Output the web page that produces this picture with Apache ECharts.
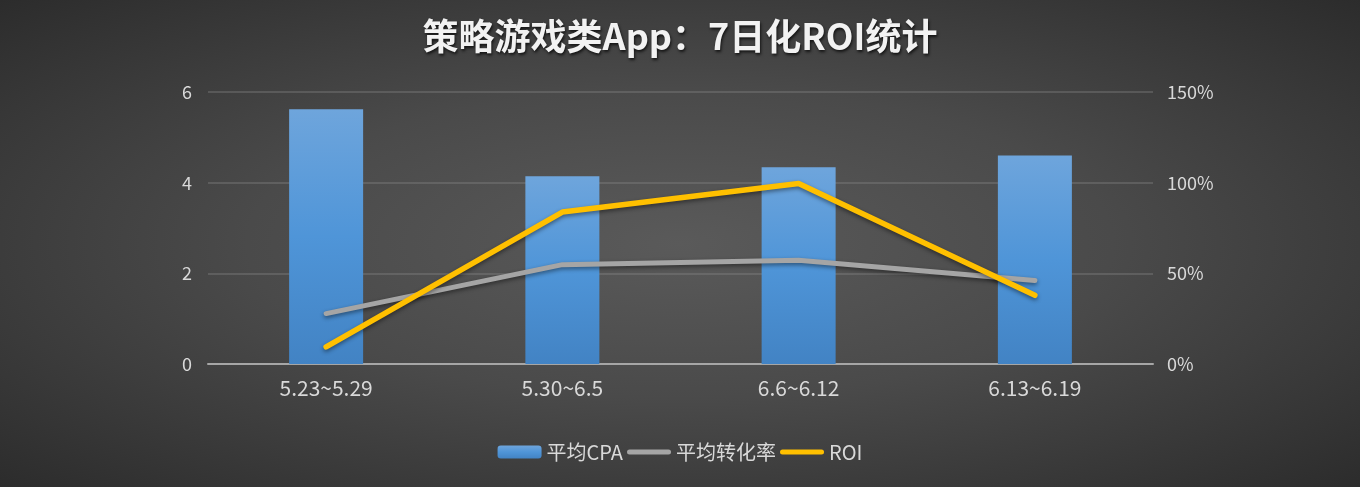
<!DOCTYPE html>
<html>
<head>
<meta charset="utf-8">
<script src="https://cdn.jsdelivr.net/npm/echarts@6/dist/echarts.min.js"></script>
<style>
html,body{margin:0;padding:0;width:100%;height:100%;}
#main{width:1360px;height:487px;background:radial-gradient(ellipse at 50% 50%,#5a5a5a 0%,#4a4a4a 45%,#2c2c2c 100%);}
</style>
</head>
<body>
<div id="main"></div>
<script>
// 周期
var categories = ['5.23~5.29', '5.30~6.5', '6.6~6.12', '6.13~6.19'];
// 平均CPA（左轴）
var cpaData = [5.62, 4.14, 4.34, 4.60];
// 平均转化率（右轴，%）
var rateData = [27.8, 54.8, 57.2, 46.0];
// ROI（右轴，%）
var roiData = [9.4, 83.8, 99.5, 37.9];

var font = '"Noto Sans CJK SC","Open Sans",sans-serif';
// 图例中折线的圆角短线
var lineIcon = 'path://M2.5,0 L41.5,0 A2.5,2.5 0 0 1 41.5,5 L2.5,5 A2.5,2.5 0 0 1 2.5,0 Z';
var myChart = echarts.init(document.getElementById('main'));
var option = {
	backgroundColor: 'transparent',
	//标题
	title: {
		text: '策略游戏类App：7日化ROI统计',
		left: 'center',
		top: 13,
		textStyle: {
			color: '#f2f2f2',
			fontSize: 36,
			fontWeight: 'bold',
			fontFamily: font,
			textShadowColor: 'rgba(0,0,0,0.7)',
			textShadowBlur: 3,
			textShadowOffsetX: 1,
			textShadowOffsetY: 2
		}
	},
	//图例
	legend: {
		bottom: 20,
		left: 'center',
		itemGap: 4,
		itemWidth: 44,
		itemHeight: 13,
		textStyle: {color: '#d9d9d9', fontSize: 20, fontFamily: font},
		data: [
			{name: '平均CPA'},
			{name: '平均转化率', icon: lineIcon},
			{name: 'ROI', icon: lineIcon}
		]
	},
	grid: {
		left: 208,
		right: 207,
		top: 92,
		bottom: 123
	},
	xAxis: [{
		type: 'category',
		data: categories,
		axisLine: {lineStyle: {color: '#a6a6a6', width: 2}},
		axisTick: {show: false},
		axisLabel: {color: '#d9d9d9', fontSize: 21, fontFamily: font, margin: 14}
	}],
	yAxis: [{
		type: 'value',
		min: 0,
		max: 6,
		interval: 2,
		axisLine: {show: false},
		axisTick: {show: false},
		axisLabel: {color: '#d9d9d9', fontSize: 18, fontFamily: font, margin: 16},
		splitLine: {lineStyle: {color: 'rgba(140,140,140,0.45)', width: 1.5}}
	}, {
		type: 'value',
		min: 0,
		max: 150,
		interval: 50,
		axisLine: {show: false},
		axisTick: {show: false},
		axisLabel: {color: '#d9d9d9', fontSize: 18, fontFamily: font, margin: 14, formatter: '{value}%'},
		splitLine: {show: false}
	}],
	series: [{
		name: '平均CPA',
		type: 'bar',
		barWidth: 74,
		data: cpaData,
		itemStyle: {
			color: new echarts.graphic.LinearGradient(0, 0, 0, 1, [
				{offset: 0, color: '#6ea5dc'},
				{offset: 0.5, color: '#4f95d8'},
				{offset: 1, color: '#4283c4'}
			]),
			shadowColor: 'rgba(0,0,0,0.35)',
			shadowBlur: 4,
			shadowOffsetX: 1,
			shadowOffsetY: 1
		}
	}, {
		name: '平均转化率',
		type: 'line',
		yAxisIndex: 1,
		data: rateData,
		symbol: 'none',
		lineStyle: {
			color: '#a5a5a5',
			width: 5,
			cap: 'round',
			join: 'round',
			shadowColor: 'rgba(0,0,0,0.45)',
			shadowBlur: 4,
			shadowOffsetY: 2
		},
		itemStyle: {color: '#a5a5a5'}
	}, {
		name: 'ROI',
		type: 'line',
		yAxisIndex: 1,
		data: roiData,
		symbol: 'none',
		lineStyle: {
			color: '#ffc000',
			width: 5.5,
			cap: 'round',
			join: 'round',
			shadowColor: 'rgba(0,0,0,0.45)',
			shadowBlur: 4,
			shadowOffsetY: 2
		},
		itemStyle: {color: '#ffc000'}
	}]
};
myChart.setOption(option);
</script>
</body>
</html>
